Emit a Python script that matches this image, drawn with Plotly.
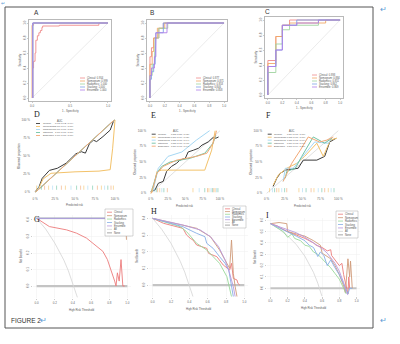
import plotly.graph_objects as go

W, H = 400, 344
MODELS = ["Clinical", "Nomogram", "Radiomics", "Stacking", "Ensemble"]

ROC_COLORS = ["#ef8a8a", "#f0a868", "#9fd49f", "#7ea2e6", "#b07fe8"]
CAL_COLORS = ["#3a3a3a", "#f3c26a", "#a6d8f4", "#6fc3a4", "#f2a875"]
DCA_COLORS = ["#ec7b7b", "#cf9a78", "#98d898", "#86aee6", "#b898dc"]
ALL_COLOR = "#d4d4d4"
NONE_COLOR = "#c4c4c4"

# ---------------- ROC data: (1 - specificity, sensitivity) ----------------
rocA_auc = ["0.954", "0.999", "1.000", "1.000", "1.000"]
rocA_fpr = {
    "Clinical": [0.01, 0.01, 0.02, 0.02, 0.04, 0.04, 0.05, 0.05, 0.07, 0.07, 0.09, 0.09, 0.11, 0.11,
                 0.13, 0.13, 0.14, 0.14, 0.36, 0.36, 0.88, 0.88, 1.0],
    "Nomogram": [0.0, 0.0, 0.02, 0.02, 1.0],
    "Radiomics": [0.01, 0.01, 1.0],
    "Stacking": [0.01, 0.01, 1.0],
    "Ensemble": [0.01, 0.01, 1.0],
}
rocA_tpr = {
    "Clinical": [0.0, 0.40, 0.40, 0.49, 0.49, 0.60, 0.60, 0.77, 0.77, 0.83, 0.83, 0.87, 0.87, 0.90,
                 0.90, 0.94, 0.94, 0.96, 0.96, 0.97, 0.97, 1.0, 1.0],
    "Nomogram": [0.0, 0.97, 0.97, 1.0, 1.0],
    "Radiomics": [0.0, 1.0, 1.0],
    "Stacking": [0.0, 1.0, 1.0],
    "Ensemble": [0.0, 1.0, 1.0],
}

rocB_auc = ["0.877", "0.871", "0.853", "0.846", "0.858"]
rocB_fpr = {
    "Clinical": [0, 0, 0.02, 0.02, 0.05, 0.05, 0.12, 0.12, 0.18, 0.18, 1],
    "Nomogram": [0, 0, 0.03, 0.03, 0.05, 0.05, 0.10, 0.10, 0.20, 0.20, 1],
    "Radiomics": [0, 0, 0.03, 0.03, 0.06, 0.06, 0.07, 0.07, 0.12, 0.12, 0.24, 0.24, 1],
    "Stacking": [0, 0, 0.02, 0.02, 0.05, 0.05, 0.07, 0.07, 0.08, 0.08, 0.18, 0.18, 1],
    "Ensemble": [0, 0, 0.02, 0.02, 0.06, 0.06, 0.08, 0.08, 0.23, 0.23, 1],
}
rocB_tpr = {
    "Clinical": [0, 0.55, 0.55, 0.67, 0.67, 0.80, 0.80, 0.93, 0.93, 1, 1],
    "Nomogram": [0, 0.45, 0.45, 0.62, 0.62, 0.80, 0.80, 0.93, 0.93, 1, 1],
    "Radiomics": [0, 0.30, 0.30, 0.45, 0.45, 0.60, 0.60, 0.80, 0.80, 0.93, 0.93, 1, 1],
    "Stacking": [0, 0.25, 0.25, 0.35, 0.35, 0.45, 0.45, 0.62, 0.62, 0.87, 0.87, 1, 1],
    "Ensemble": [0, 0.30, 0.30, 0.40, 0.40, 0.55, 0.55, 0.87, 0.87, 1, 1],
}

rocC_auc = ["0.893", "0.884", "0.851", "0.862", "0.869"]
rocC_fpr = {
    "Clinical": [0, 0, 0.11, 0.11, 0.20, 0.20, 0.30, 0.30, 1],
    "Nomogram": [0, 0, 0.11, 0.11, 0.20, 0.20, 0.30, 0.30, 0.80, 0.80, 1],
    "Radiomics": [0, 0, 0.11, 0.11, 0.20, 0.20, 0.30, 0.30, 0.70, 0.70, 1],
    "Stacking": [0, 0, 0.11, 0.11, 0.20, 0.20, 0.40, 0.40, 1],
    "Ensemble": [0, 0, 0.11, 0.11, 0.20, 0.20, 0.40, 0.40, 0.70, 0.70, 1],
}
rocC_tpr = {
    "Clinical": [0, 0.46, 0.46, 0.78, 0.78, 0.93, 0.93, 1, 1],
    "Nomogram": [0, 0.42, 0.42, 0.78, 0.78, 0.93, 0.93, 0.96, 0.96, 1, 1],
    "Radiomics": [0, 0.30, 0.30, 0.68, 0.68, 0.87, 0.87, 0.93, 0.93, 1, 1],
    "Stacking": [0, 0.38, 0.38, 0.60, 0.60, 0.93, 0.93, 1, 1],
    "Ensemble": [0, 0.38, 0.38, 0.60, 0.60, 0.93, 0.93, 0.96, 0.96, 1, 1],
}

# ---------------- Calibration data: (predicted, observed) ----------------
calD_auc = ["0.95 [0.92, 0.99]", "1.00 [0.99, 1.00]", "1.00 [1.00, 1.00]",
            "1.00 [1.00, 1.00]", "1.00 [1.00, 1.00]"]
calD_pred = {
    "Clinical": [0.0, 0.05, 0.09, 0.18, 0.28, 0.39, 0.51, 0.58, 0.63, 0.68, 0.73, 0.77, 0.85, 0.94, 0.98],
    "Nomogram": [0.01, 0.05, 0.10, 0.20, 0.50, 0.80, 0.94, 0.97, 1.0],
    "Radiomics": [0.0, 0.02, 0.98, 1.0],
    "Stacking": [0.0, 0.02, 0.98, 1.0],
    "Ensemble": [0.0, 0.02, 0.98, 1.0],
}
calD_obs = {
    "Clinical": [0.0, 0.07, 0.19, 0.30, 0.33, 0.40, 0.53, 0.56, 0.54, 0.67, 0.72, 0.70, 0.77, 0.86, 0.98],
    "Nomogram": [0.0, 0.06, 0.18, 0.26, 0.28, 0.29, 0.31, 0.60, 1.0],
    "Radiomics": [0.0, 0.01, 0.99, 1.0],
    "Stacking": [0.0, 0.01, 0.99, 1.0],
    "Ensemble": [0.0, 0.01, 0.99, 1.0],
}
calD_rug = [0.02, 0.04, 0.08, 0.12, 0.17, 0.22, 0.27, 0.33, 0.38, 0.45, 0.52, 0.57,
            0.61, 0.66, 0.72, 0.78, 0.83, 0.87, 0.91, 0.95, 0.98]

calE_auc = ["0.88 [0.80, 0.95]", "0.87 [0.79, 0.95]", "0.85 [0.76, 0.94]",
            "0.85 [0.76, 0.93]", "0.86 [0.77, 0.94]"]
calE_pred = {
    "Clinical": [0.0, 0.06, 0.11, 0.18, 0.23, 0.30, 0.375, 0.42, 0.50, 0.54, 0.62, 0.69, 0.74, 0.83, 0.90, 0.94, 0.98],
    "Nomogram": [0.0, 0.04, 0.09, 0.16, 0.78, 0.88, 0.93],
    "Radiomics": [0.03, 0.11, 0.25, 0.45, 0.66, 0.85],
    "Stacking": [0.01, 0.09, 0.16, 0.28, 0.57, 0.78, 0.90, 0.94],
    "Ensemble": [0.01, 0.09, 0.18, 0.375, 0.66, 0.81, 0.90, 0.95],
}
calE_obs = {
    "Clinical": [0.03, 0.05, 0.16, 0.19, 0.35, 0.43, 0.48, 0.53, 0.56, 0.66, 0.69, 0.72, 0.77, 0.82, 0.89, 0.88, 0.90],
    "Nomogram": [0.0, 0.08, 0.35, 0.37, 0.37, 0.69, 1.0],
    "Radiomics": [0.03, 0.40, 0.59, 0.66, 0.85, 1.0],
    "Stacking": [0.03, 0.32, 0.43, 0.50, 0.56, 0.64, 0.80, 0.93],
    "Ensemble": [0.0, 0.32, 0.43, 0.53, 0.59, 0.64, 0.80, 1.0],
}
calE_rug = [0.02, 0.05, 0.08, 0.10, 0.13, 0.16, 0.19, 0.24, 0.61, 0.70, 0.78, 0.82,
            0.84, 0.87, 0.89, 0.91, 0.93, 0.95, 0.97]

calF_auc = ["0.89 [0.77, 1.00]", "0.88 [0.76, 1.00]", "0.85 [0.71, 0.99]",
            "0.86 [0.73, 0.99]", "0.87 [0.74, 1.00]"]
calF_pred = {
    "Clinical": [0.09, 0.14, 0.19, 0.26, 0.44, 0.51, 0.70, 0.81, 0.88, 0.93, 0.97],
    "Nomogram": [0.09, 0.16, 0.28, 0.42, 0.53, 0.70, 0.79, 0.89, 0.98],
    "Radiomics": [0.23, 0.26, 0.37, 0.51, 0.67, 0.86, 0.91],
    "Stacking": [0.26, 0.28, 0.40, 0.49, 0.65, 0.81, 0.91],
    "Ensemble": [0.23, 0.35, 0.47, 0.58, 0.74, 0.84, 0.93],
}
calF_obs = {
    "Clinical": [0.11, 0.24, 0.32, 0.37, 0.40, 0.53, 0.53, 0.59, 0.82, 0.85, 0.88],
    "Nomogram": [0.13, 0.29, 0.40, 0.48, 0.59, 0.80, 0.59, 0.85, 0.88],
    "Radiomics": [0.19, 0.40, 0.40, 0.59, 0.82, 0.80, 0.88],
    "Stacking": [0.24, 0.35, 0.40, 0.59, 0.90, 0.80, 0.88],
    "Ensemble": [0.19, 0.48, 0.69, 0.90, 0.82, 0.85, 0.90],
}
calF_rug = [0.04, 0.08, 0.11, 0.14, 0.17, 0.21, 0.25, 0.28, 0.45, 0.50, 0.55,
            0.62, 0.66, 0.72, 0.77, 0.81, 0.86, 0.90, 0.94]

# ---------------- Decision curves: (threshold, net benefit) ----------------
dcaG_thr = {
    "Clinical": [0.0, 0.14, 0.33, 0.44, 0.55, 0.66, 0.73, 0.78, 0.82, 0.86, 0.875, 0.89, 0.91, 0.93, 0.95, 0.97],
    "Nomogram": [0.0, 0.5, 0.98, 0.99],
    "Radiomics": [0.0, 0.5, 0.98],
    "Stacking": [0.0, 0.5, 0.98],
    "Ensemble": [0.0, 0.5, 0.98],
}
dcaG_nb = {
    "Clinical": [0.41, 0.36, 0.34, 0.32, 0.29, 0.24, 0.21, 0.16, 0.10, 0.03, 0.0, 0.08, 0.03, 0.16, 0.0, 0.0],
    "Nomogram": [0.41, 0.41, 0.41, 0.28],
    "Radiomics": [0.41, 0.41, 0.41],
    "Stacking": [0.41, 0.41, 0.41],
    "Ensemble": [0.41, 0.41, 0.41],
}
dcaG_all_thr = [0.0, 0.1, 0.2, 0.3, 0.35, 0.4, 0.45]
dcaG_all_nb = [0.41, 0.345, 0.26, 0.157, 0.092, 0.017, -0.07]

dcaH_thr = {
    "Clinical": [0.0, 0.12, 0.33, 0.37, 0.41, 0.44, 0.48, 0.53, 0.59, 0.61, 0.70, 0.77, 0.81, 0.84, 0.86, 0.88, 0.92, 0.93, 0.95],
    "Nomogram": [0.0, 0.33, 0.48, 0.63, 0.73, 0.81, 0.84, 0.86, 0.88, 0.90, 0.92],
    "Radiomics": [0.0, 0.30, 0.37, 0.48, 0.59, 0.66, 0.73, 0.81, 0.84, 0.86],
    "Stacking": [0.0, 0.33, 0.48, 0.57, 0.59, 0.66, 0.73, 0.79, 0.83, 0.86, 0.88],
    "Ensemble": [0.0, 0.33, 0.52, 0.63, 0.72, 0.79, 0.84, 0.88, 0.90],
}
dcaH_nb = {
    "Clinical": [0.40, 0.37, 0.34, 0.30, 0.28, 0.27, 0.24, 0.23, 0.22, 0.19, 0.17, 0.12, 0.10, 0.09, 0.13, 0.04, 0.03, 0.01, 0.0],
    "Nomogram": [0.40, 0.36, 0.34, 0.29, 0.21, 0.13, 0.10, 0.27, 0.07, -0.01, -0.07],
    "Radiomics": [0.40, 0.35, 0.32, 0.25, 0.21, 0.17, 0.13, 0.05, -0.03, -0.07],
    "Stacking": [0.40, 0.35, 0.31, 0.29, 0.25, 0.22, 0.17, 0.13, 0.09, 0.0, -0.07],
    "Ensemble": [0.40, 0.36, 0.33, 0.29, 0.23, 0.15, 0.07, -0.01, -0.07],
}
dcaH_all_thr = [0.0, 0.1, 0.2, 0.3, 0.35, 0.4, 0.44]
dcaH_all_nb = [0.40, 0.333, 0.25, 0.143, 0.077, 0.0, -0.07]

dcaI_thr = {
    "Clinical": [0.0, 0.08, 0.12, 0.20, 0.30, 0.40, 0.50, 0.53, 0.60, 0.66, 0.70, 0.71, 0.80, 0.83, 0.85, 0.88, 0.90, 0.91, 0.92],
    "Nomogram": [0.0, 0.10, 0.19, 0.20, 0.30, 0.40, 0.45, 0.50, 0.58, 0.60, 0.70, 0.75, 0.80, 0.85, 0.87, 0.90, 0.92, 0.93, 0.95],
    "Radiomics": [0.0, 0.15, 0.20, 0.25, 0.28, 0.35, 0.40, 0.45, 0.50, 0.55, 0.60, 0.65, 0.70, 0.75, 0.80, 0.85, 0.88],
    "Stacking": [0.0, 0.20, 0.30, 0.40, 0.45, 0.50, 0.55, 0.58, 0.62, 0.66, 0.70, 0.75, 0.80, 0.85, 0.90, 0.92, 0.95],
    "Ensemble": [0.0, 0.20, 0.30, 0.40, 0.50, 0.60, 0.66, 0.70, 0.75, 0.80, 0.85, 0.88, 0.90],
}
dcaI_nb = {
    "Clinical": [0.57, 0.55, 0.53, 0.50, 0.47, 0.44, 0.40, 0.38, 0.36, 0.33, 0.34, 0.29, 0.20, 0.22, 0.12, 0.0, -0.05, 0.10, 0.0],
    "Nomogram": [0.57, 0.58, 0.57, 0.50, 0.48, 0.46, 0.44, 0.42, 0.38, 0.31, 0.26, 0.20, 0.12, 0.02, -0.04, 0.26, 0.10, 0.24, 0.0],
    "Radiomics": [0.57, 0.50, 0.45, 0.48, 0.44, 0.42, 0.38, 0.37, 0.32, 0.30, 0.26, 0.22, 0.18, 0.13, 0.08, 0.0, -0.05],
    "Stacking": [0.57, 0.50, 0.46, 0.42, 0.38, 0.36, 0.28, 0.32, 0.29, 0.20, 0.25, 0.18, 0.12, 0.04, -0.05, 0.0, 0.0],
    "Ensemble": [0.57, 0.52, 0.49, 0.45, 0.40, 0.35, 0.31, 0.27, 0.22, 0.15, 0.05, -0.03, -0.06],
}
dcaI_all_thr = [0.0, 0.1, 0.2, 0.3, 0.4, 0.5, 0.55, 0.6]
dcaI_all_nb = [0.57, 0.522, 0.462, 0.386, 0.283, 0.14, 0.044, -0.075]

DCA_LABELS = MODELS + ["All", "None"]

# ---------------- figure construction ----------------
fig = go.Figure()
layout = {}
annotations = []
shapes = []
TICKFONT = dict(family="Liberation Sans", size=3, color="#666666")


def px(x):
    return x / W


def py(y):
    return 1 - y / H


def make_axes(i, x0, x1, y0, y1, xr, yr, xt, xtt, yt, ytt, style):
    xs = "xaxis" if i == 1 else f"xaxis{i}"
    ys = "yaxis" if i == 1 else f"yaxis{i}"
    xa = dict(domain=[px(x0), px(x1)], range=xr, tickvals=xt, ticktext=xtt,
              tickfont=TICKFONT, anchor=f"y{'' if i == 1 else i}", zeroline=False,
              showgrid=False, ticks="outside", ticklen=1.5, tickwidth=0.5, tickcolor="#999")
    ya = dict(domain=[py(y1), py(y0)], range=yr, tickvals=yt, ticktext=ytt,
              tickfont=TICKFONT, anchor=f"x{'' if i == 1 else i}", zeroline=False,
              showgrid=False, ticks="outside", ticklen=1.5, tickwidth=0.5, tickcolor="#999")
    if style == "roc":
        for a in (xa, ya):
            a.update(showline=True, linecolor="#8a8a8a", linewidth=0.6, mirror=True)
        ya.update(tickangle=-90)
    elif style == "cal":
        for a in (xa, ya):
            a.update(showline=False, ticks="")
    elif style == "dca":
        for a in (xa, ya):
            a.update(showline=False, showgrid=True, gridcolor="#f0f0f0", gridwidth=0.5)
        ya.update(tickangle=-90)
    layout[xs] = xa
    layout[ys] = ya
    return ("x" if i == 1 else f"x{i}"), ("y" if i == 1 else f"y{i}")


def add_text(x, y, text, size=4, angle=0, anchor="center", family="Liberation Sans",
             color="#555555"):
    annotations.append(dict(x=px(x), y=py(y), xref="paper", yref="paper", text=text,
                            showarrow=False, textangle=angle, xanchor=anchor,
                            yanchor="middle", borderpad=0,
                            font=dict(family=family, size=size, color=color)))


def add_legend(x0, y0, dy, labels, colors, size=2.6, seglen=5, box=None, widths=None):
    if box is not None:
        shapes.append(dict(type="rect", xref="paper", yref="paper",
                           x0=px(box[0]), x1=px(box[2]), y0=py(box[3]), y1=py(box[1]),
                           line=dict(color="#aaaaaa", width=0.5), fillcolor="white"))
    for k, (lab, col) in enumerate(zip(labels, colors)):
        yy = y0 + k * dy
        w = 0.8 if widths is None else widths[k]
        shapes.append(dict(type="line", xref="paper", yref="paper", x0=px(x0), x1=px(x0 + seglen),
                           y0=py(yy), y1=py(yy), line=dict(color=col, width=w)))
        add_text(x0 + seglen + 1.2, yy, lab, size=size, anchor="left")


# ---- ROC panels ----
roc_specs = [
    (1, (29, 111, 20, 101), rocA_fpr, rocA_tpr, rocA_auc, [0, 0.5, 1.0], ["0.0", "0.5", "1.0"], "A", (33, 13)),
    (2, (147, 227, 20, 101), rocB_fpr, rocB_tpr, rocB_auc, [0, 0.2, 0.4, 0.6, 0.8, 1.0],
     ["0.0", "0.2", "0.4", "0.6", "0.8", "1.0"], "B", (149, 13)),
    (3, (265, 343, 17, 98), rocC_fpr, rocC_tpr, rocC_auc, [0, 0.2, 0.4, 0.6, 0.8, 1.0],
     ["0.0", "0.2", "0.4", "0.6", "0.8", "1.0"], "C", (264, 11)),
]
ytv = [0, 0.2, 0.4, 0.6, 0.8, 1.0]
ytt = ["0.0", "0.2", "0.4", "0.6", "0.8", "1.0"]
for i, (x0, x1, y0, y1), fpr, tpr, auc, xtv, xtt, letter, lpos in roc_specs:
    xa, ya = make_axes(i, x0, x1, y0, y1, [-0.04, 1.04], [-0.04, 1.04], xtv, xtt, ytv, ytt, "roc")
    fig.add_trace(go.Scatter(x=[0, 1], y=[0, 1], mode="lines", xaxis=xa, yaxis=ya,
                             line=dict(color="#dddddd", width=0.6), showlegend=False, hoverinfo="skip"))
    for m, col in zip(MODELS, ROC_COLORS):
        fig.add_trace(go.Scatter(x=fpr[m], y=tpr[m], mode="lines", xaxis=xa, yaxis=ya,
                                 line=dict(color=col, width=0.9), showlegend=False))
    add_text(lpos[0], lpos[1], letter, size=6.5, anchor="left", color="#333333")
    add_text((x0 + x1) / 2, y1 + 9.5, "1 - Specificity", size=2.8)
    add_text(x0 - 9, (y0 + y1) / 2, "Sensitivity", size=2.8, angle=-90)
    labels = [f"{m}: {a}" for m, a in zip(MODELS, auc)]
    add_legend(x1 - 31, y1 - 23, 3.0, labels, ROC_COLORS, size=2.6, seglen=5)

# ---- Calibration panels ----
pct_v = [0, 0.25, 0.5, 0.75, 1.0]
pct_t = ["0 %", "25 %", "50 %", "75 %", "100 %"]
cal_specs = [
    (4, (35, 115, 120, 192), calD_pred, calD_obs, calD_auc, calD_rug, 0.06, "D", (33, 115)),
    (5, (150.7, 220, 130.7, 193.3), calE_pred, calE_obs, calE_auc, calE_rug, 0.05, "E", (150, 116)),
    (6, (266.7, 338.3, 130.7, 193.3), calF_pred, calF_obs, calF_auc, calF_rug, 0.05, "F", (265, 116)),
]
for i, (x0, x1, y0, y1), pred, obs, auc, rug, rugy, letter, lpos in cal_specs:
    dx = (x1 - x0) * 0.05
    dyy = (y1 - y0) * 0.05
    xa, ya = make_axes(i, x0 - dx, x1 + dx, y0 - dyy, y1 + dyy, [-0.05, 1.05], [-0.05, 1.05],
                       pct_v, pct_t, pct_v, pct_t, "cal")
    fig.add_trace(go.Scatter(x=[0, 1], y=[0, 1], mode="lines", xaxis=xa, yaxis=ya,
                             line=dict(color="#cccccc", width=0.6), showlegend=False, hoverinfo="skip"))
    for m, col in zip(MODELS, CAL_COLORS):
        fig.add_trace(go.Scatter(x=pred[m], y=obs[m], mode="lines", xaxis=xa, yaxis=ya,
                                 line=dict(color=col, width=1.0), showlegend=False))
    rug_cols = [CAL_COLORS[1 + (k % 4)] for k in range(len(rug))]
    fig.add_trace(go.Scatter(x=rug, y=[rugy] * len(rug), mode="markers", xaxis=xa, yaxis=ya,
                             marker=dict(symbol="line-ns", size=3, color=rug_cols,
                                         line=dict(color=rug_cols, width=0.6)),
                             showlegend=False))
    add_text(lpos[0], lpos[1], letter, size=8, anchor="left", family="Liberation Serif", color="#222222")
    add_text((x0 + x1) / 2, y1 + 13, "Predicted risk", size=2.8)
    add_text(x0 - 16, (y0 + y1) / 2, "Observed proportion", size=2.8, angle=-90)
    lx = x0 + 1
    ly = y0 + 3.5
    add_text(lx + 24, ly - 3, "AUC", size=2.6, anchor="center")
    for k, (m, col, a) in enumerate(zip(MODELS, CAL_COLORS, auc)):
        yy = ly + k * 3
        shapes.append(dict(type="line", xref="paper", yref="paper", x0=px(lx), x1=px(lx + 4),
                           y0=py(yy), y1=py(yy), line=dict(color=col, width=0.9)))
        add_text(lx + 5.5, yy, m, size=2.5, anchor="left")
        add_text(lx + 18, yy, a, size=2.5, anchor="left")

# ---- Decision curve panels ----
dca_specs = [
    (7, (33, 131), [-0.07, 0.43], [0, 0.1, 0.2, 0.3, 0.4], dcaG_thr, dcaG_nb, dcaG_all_thr, dcaG_all_nb,
     (215, 297.6), "G", (33, 219), (105, 209, 133, 236)),
    (8, (149, 248), [-0.07, 0.42], [0, 0.1, 0.2, 0.3, 0.4], dcaH_thr, dcaH_nb, dcaH_all_thr, dcaH_all_nb,
     (215, 296.7), "H", (150, 211), (223, 206, 246, 228)),
    (9, (267, 360), [-0.07, 0.62], [0, 0.1, 0.2, 0.3, 0.4, 0.5, 0.6], dcaI_thr, dcaI_nb, dcaI_all_thr,
     dcaI_all_nb, (218, 296.2), "I", (265, 215), (336, 211, 358, 238)),
]
dca_xt = [0, 0.2, 0.4, 0.6, 0.8, 1.0]
dca_xtt = ["0.0", "0.2", "0.4", "0.6", "0.8", "1.0"]
for i, (x0, x1), yr, ytv_, thr, nb, athr, anb, (y0, y1), letter, lpos, box in dca_specs:
    xa, ya = make_axes(i, x0, x1, y0, y1, [-0.04, 1.04], yr, dca_xt, dca_xtt, ytv_,
                       [f"{v:.1f}" for v in ytv_], "dca")
    fig.add_trace(go.Scatter(x=[0, 1], y=[0, 0], mode="lines", xaxis=xa, yaxis=ya,
                             line=dict(color=NONE_COLOR, width=2.2), showlegend=False))
    fig.add_trace(go.Scatter(x=athr, y=anb, mode="lines", xaxis=xa, yaxis=ya,
                             line=dict(color=ALL_COLOR, width=0.8), showlegend=False))
    for m, col in zip(MODELS, DCA_COLORS):
        fig.add_trace(go.Scatter(x=thr[m], y=nb[m], mode="lines", xaxis=xa, yaxis=ya,
                                 line=dict(color=col, width=0.9), showlegend=False))
    add_text(lpos[0], lpos[1], letter, size=8, anchor="left", family="Liberation Serif", color="#222222")
    add_text((x0 + x1) / 2, y1 + 12, "High Risk Threshold", size=2.8)
    add_text(x0 - 12, (y0 + y1) / 2, "Net Benefit", size=2.8, angle=-90)
    n = len(DCA_LABELS)
    dy = (box[3] - box[1] - 3) / n
    add_legend(box[0] + 2, box[1] + 1.5 + dy / 2, dy, DCA_LABELS,
               DCA_COLORS + [ALL_COLOR, NONE_COLOR], size=2.6, seglen=5, box=box,
               widths=[0.8] * 5 + [0.8, 1.5])

# ---- frame and caption ----
shapes.append(dict(type="rect", xref="paper", yref="paper", x0=px(5), x1=px(373), y0=py(328), y1=py(7),
                   line=dict(color="#555555", width=1)))
add_text(10, 320, "FIGURE 2", size=6.5, anchor="left", color="#333333")
for (ax, ay) in [(383, 9), (43, 320), (383, 320)]:
    add_text(ax, ay, "↵", size=8, color="#5b9bd5")
add_text(3, 3, "↵", size=5, color="#5b9bd5")

fig.update_layout(width=W, height=H, margin=dict(l=0, r=0, t=0, b=0),
                  paper_bgcolor="white", plot_bgcolor="white", showlegend=False,
                  hovermode=False, annotations=annotations, shapes=shapes, **layout)
fig.write_html("out.html", config={"displayModeBar": False, "staticPlot": True},
               post_script="document.body.style.margin='0px';")
